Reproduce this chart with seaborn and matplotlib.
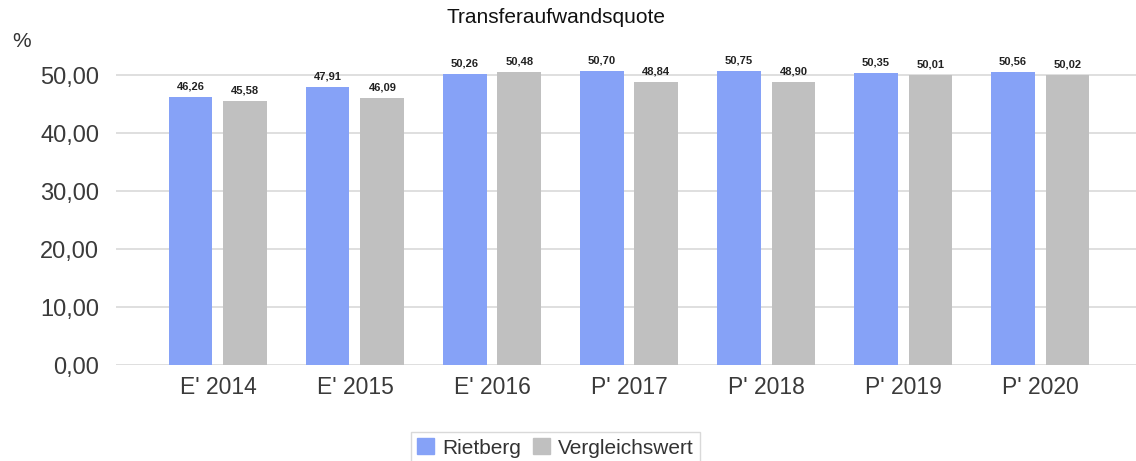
import pandas as pd
import numpy as np
import matplotlib.pyplot as plt
import seaborn as sns

jahre = ["E' 2014", "E' 2015", "E' 2016", "P' 2017", "P' 2018", "P' 2019", "P' 2020"]
rietberg = [46.26, 47.91, 50.26, 50.70, 50.75, 50.35, 50.56]
vergleich = [45.58, 46.09, 50.48, 48.84, 48.90, 50.01, 50.02]

df = pd.DataFrame({
    "Jahr": jahre * 2,
    "Wert": rietberg + vergleich,
    "Reihe": ["Rietberg"] * len(jahre) + ["Vergleichswert"] * len(jahre),
})

sns.set_style("white")
plt.rcParams["font.family"] = ["Liberation Sans", "DejaVu Sans"]

fig = plt.figure(figsize=(11.36, 4.61), dpi=100)
ax = fig.add_axes([0.102, 0.208, 0.898, 0.679])

sns.barplot(data=df, x="Jahr", y="Wert", hue="Reihe",
            palette=["#86A2F7", "#C0C0C0"], width=0.8, gap=0.2,
            saturation=1, errorbar=None, ax=ax, legend=False, zorder=3,
            linewidth=0)

for cont in ax.containers:
    werte = [b.get_height() for b in cont]
    ax.bar_label(cont, labels=[f"{v:.2f}".replace(".", ",") for v in werte],
                 padding=4, fontsize=8, fontweight="bold", color="#222222")

ax.set_ylim(0, 54)
ax.set_xlim(-0.745, 6.70)
ax.set_yticks(np.arange(0, 51, 10))
ax.set_yticklabels([f"{v:.2f}".replace(".", ",") for v in np.arange(0, 51, 10)])
ax.yaxis.grid(True, color="#D9D9D9", linewidth=1.2, zorder=0)
ax.set_axisbelow(True)
ax.tick_params(axis="y", length=0, pad=12, labelsize=17, labelcolor="#3A3A3A")
ax.tick_params(axis="x", length=0, pad=8, labelsize=16.5, labelcolor="#3A3A3A")
ax.set_xlabel("")
ax.set_ylabel("")
sns.despine(ax=ax, left=True, bottom=True)

fig.text(0.489, 0.961, "Transferaufwandsquote", ha="center", va="center",
         fontsize=15, color="#111111")
fig.text(0.011, 0.909, "%", ha="left", va="center", fontsize=15, color="#333333")

handles = [plt.Rectangle((0, 0), 1, 1, color=c) for c in ["#86A2F7", "#C0C0C0"]]
leg = fig.legend(handles, ["Rietberg", "Vergleichswert"], loc="upper center",
                 bbox_to_anchor=(0.489, 0.085), ncol=2, fontsize=15,
                 frameon=True, fancybox=False, edgecolor="#D0D0D0",
                 handlelength=0.8, handleheight=0.8, handletextpad=0.4,
                 columnspacing=0.6, borderpad=0.3, labelcolor="#333333")
leg.get_frame().set_linewidth(1.0)

fig.savefig("out.png", dpi=100)
